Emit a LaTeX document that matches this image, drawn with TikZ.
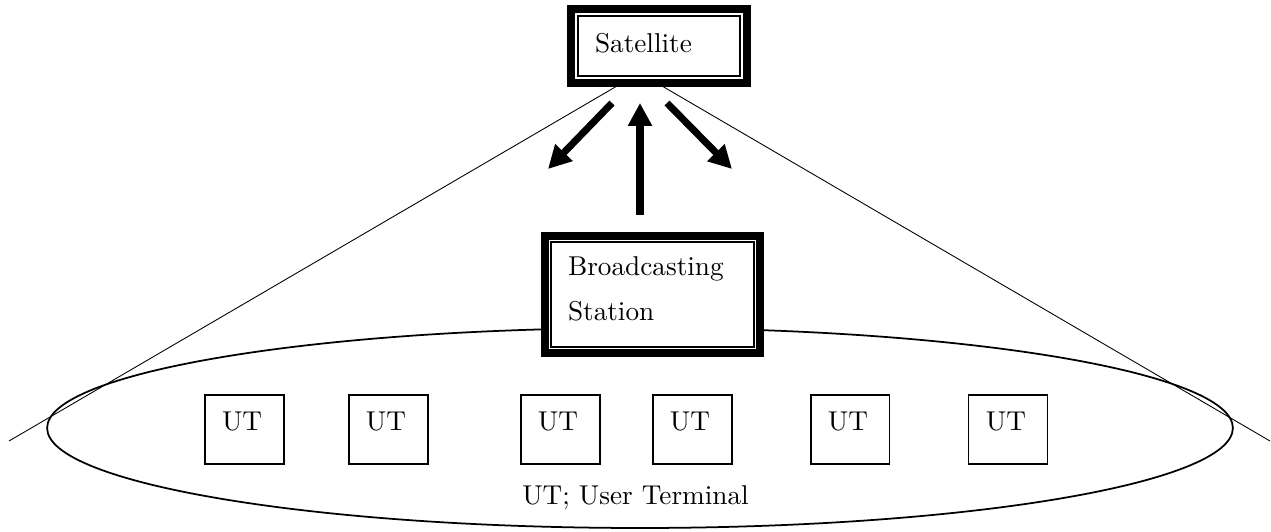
\documentclass[tikz,border=0pt]{standalone}
\usepackage{fontspec}
\setmainfont{lmroman10-regular.otf}
\usepackage{tikz}
\usetikzlibrary{arrows.meta,calc,positioning}
\pgfmathsetmacro{\framegap}{7}

\begin{document}
\begin{tikzpicture}[x=0.02cm, y=-0.02cm,
    font=\fontsize{15.5}{26}\selectfont,
    station/.style={draw, fill=white, line width=4.25pt, outer sep=0pt, inner ysep=0pt, align=left},
    terminal/.style={draw, fill=white, line width=0.7pt, outer sep=0pt, inner xsep=0.34cm, inner ysep=0pt,
        text width=0.9cm, text height=0.7cm, text depth=0.68cm, align=left},
    beam/.style={line width=0.5pt},
    link/.style={line width=4pt, -{Triangle[length=0.46cm, width=0.46cm]}}]
    \useasboundingbox (0,0) rectangle (1271,531);
    % define coordinates
    % coverage area and beam edges
    \coordinate (area) at (640, 428);
    \coordinate (beam_l_top) at (617, 86);
    \coordinate (beam_l_end) at (9, 441);
    \coordinate (beam_r_top) at (662, 86);
    \coordinate (beam_r_end) at (1270, 441);
    % links
    \coordinate (down_l_start) at (612, 103);
    \coordinate (down_l_end) at (548, 169);
    \coordinate (down_r_start) at (667, 103);
    \coordinate (down_r_end) at (732, 169);
    \coordinate (up_start) at (640, 215);
    \coordinate (up_end) at (640, 103);
    % draw coverage
    \draw[line width=1pt] (area) ellipse [x radius=11.86cm, y radius=2cm];
    \draw[beam] (beam_l_top) -- (beam_l_end);
    \draw[beam] (beam_r_top) -- (beam_r_end);
    % satellite and station
    \node[station, inner xsep=0.48cm, text width=2.56cm, text height=0.86cm, text depth=0.62cm]
        (sat) at (659, 46) {Satellite};
    \node[station, inner xsep=0.46cm, text width=3.38cm, text height=0.78cm, text depth=1.56cm]
        (bs) at (652.5, 294.5) {Broadcasting\\Station};
    % inner frame lines
    \draw[line width=0.8pt] ($(sat.south west)+(\framegap,-\framegap)$) rectangle ($(sat.north east)+(-\framegap,\framegap)$);
    \draw[line width=0.8pt] ($(bs.south west)+(\framegap-1,-\framegap+1)$) rectangle ($(bs.north east)+(-\framegap+1,\framegap-1)$);
    % links
    \draw[link] (down_l_start) -- (down_l_end);
    \draw[link] (down_r_start) -- (down_r_end);
    \draw[link] (up_start) -- (up_end);
    % user terminals
    \node[terminal] (ut1) at (244.5, 429.5) {UT};
    \node[terminal, right=1.30cm of ut1] (ut2) {UT};
    \node[terminal, right=1.86cm of ut2] (ut3) {UT};
    \node[terminal, right=1.06cm of ut3] (ut4) {UT};
    \node[terminal, right=1.58cm of ut4] (ut5) {UT};
    \node[terminal, right=1.58cm of ut5] (ut6) {UT};
    % add labels
    \node[anchor=base] (caption) at (635.5, 504) {UT; User Terminal};
\end{tikzpicture}
\end{document}
